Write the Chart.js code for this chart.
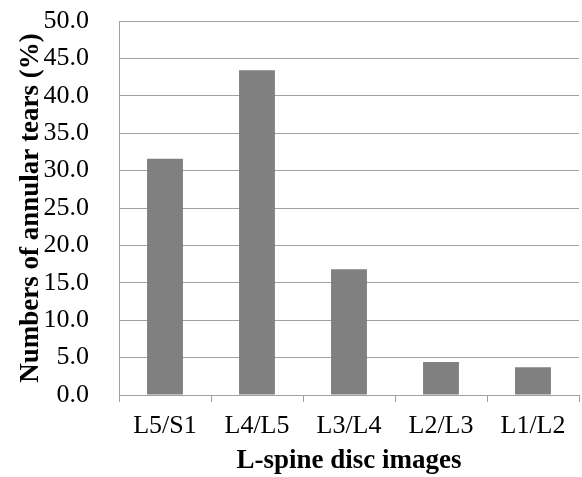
<!DOCTYPE html>
<html>
<head>
<meta charset="utf-8">
<script src="https://cdn.jsdelivr.net/npm/chart.js@4.4.0/dist/chart.umd.min.js"></script>
<style>
  html, body { margin: 0; padding: 0; background: #fff; }
  #wrap { width: 582px; height: 477px; }
</style>
</head>
<body>
<div id="wrap"><canvas id="discChart"></canvas></div>
<script>
const categories = ["L5/S1", "L4/L5", "L3/L4", "L2/L3", "L1/L2"];
const tearPercent = [31.6, 43.4, 16.8, 4.4, 3.7];
const yTicks = [0, 5, 10, 15, 20, 25, 30, 35, 40, 45, 50];

const serif = "'Liberation Serif', 'DejaVu Serif', serif";
const gridGray = "#a0a0a0";

const ctx = document.getElementById("discChart").getContext("2d");
new Chart(ctx, {
  type: "bar",
  data: {
    labels: categories,
    datasets: [{
      data: tearPercent,
      backgroundColor: "#808080",
      borderWidth: 0,
      barPercentage: 0.78,
      categoryPercentage: 0.5
    }]
  },
  options: {
    responsive: true,
    maintainAspectRatio: false,
    animation: false,
    layout: { padding: { top: 21, right: 3, left: 0, bottom: 0 } },
    plugins: {
      legend: { display: false },
      tooltip: { enabled: false }
    },
    scales: {
      x: {
        grid: {
          drawOnChartArea: false,
          drawTicks: true,
          tickLength: 7,
          color: gridGray
        },
        border: { color: gridGray, width: 1 },
        ticks: {
          color: "#000",
          padding: 9,
          maxRotation: 0,
          font: { family: serif, size: 26 }
        },
        title: {
          display: true,
          text: "L-spine disc images",
          color: "#000",
          padding: { top: 0, bottom: 0 },
          font: { family: serif, size: 27, weight: "bold" }
        },
        afterFit(scale) { scale.height = 82; }
      },
      y: {
        min: 0,
        max: 50,
        afterBuildTicks(scale) {
          scale.ticks = yTicks.map(v => ({ value: v }));
        },
        grid: {
          drawTicks: false,
          color: gridGray
        },
        border: { color: gridGray, width: 1 },
        ticks: {
          color: "#000",
          padding: 30,
          font: { family: serif, size: 26 },
          callback: v => Number(v).toFixed(1)
        },
        title: {
          display: true,
          text: "Numbers of annular tears (%)",
          color: "#000",
          padding: { top: 15, bottom: 0 },
          font: { family: serif, size: 27, weight: "bold" }
        },
        afterFit(scale) {
          scale.width = 119;
          scale.paddingTop = 0;
          scale.paddingBottom = 0;
        }
      }
    }
  }
});
</script>
</body>
</html>
